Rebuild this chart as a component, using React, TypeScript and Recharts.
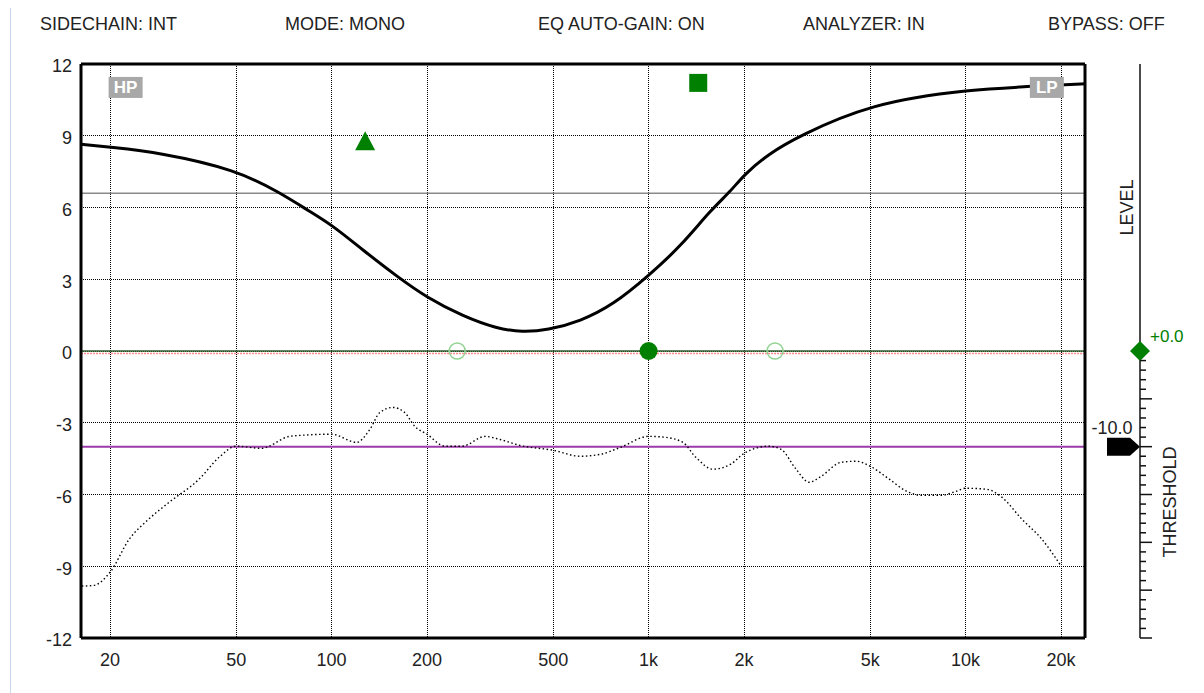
import {
  ComposedChart,
  Line,
  Scatter,
  XAxis,
  YAxis,
  CartesianGrid,
  ReferenceLine,
  ReferenceDot,
} from 'recharts';

const FONT = '"Liberation Sans", Arial, sans-serif';
const GREEN = '#008000';

// header status flags
const statusItems = ['SIDECHAIN: INT', 'MODE: MONO', 'EQ AUTO-GAIN: ON', 'ANALYZER: IN', 'BYPASS: OFF'];
const statusLeft = [40, 285, 538, 803, 1048];

// axes
const xTicks = [20, 50, 100, 200, 500, 1000, 2000, 5000, 10000, 20000];
const xTickLabels = ['20', '50', '100', '200', '500', '1k', '2k', '5k', '10k', '20k'];
const yTicks = [-12, -9, -6, -3, 0, 3, 6, 9, 12];
const thresholdTicks = [15, ...Array.from({ length: 31 }, (_, i) => -i)];

// EQ response curve (Hz, dB)
const eqFreq = [16.2, 20, 28.6, 50, 68.5, 85.2, 100, 125, 161, 200, 259, 333, 400, 479, 609, 775, 1000, 1263, 1571, 1817, 2000, 2400, 2962, 5000, 10000, 20000, 23800];
const eqGain = [8.65, 8.52, 8.3, 7.58, 6.63, 5.84, 5.28, 4.24, 3.11, 2.23, 1.46, 0.93, 0.79, 0.87, 1.24, 1.94, 3.15, 4.38, 5.9, 6.68, 7.38, 8.25, 8.97, 10.33, 10.94, 11.12, 11.17];

// analyzer spectrum (Hz, dB)
const anFreq = [16.3, 17.8, 20, 23, 26.5, 30.7, 38.2, 44.2, 50, 60, 73.6, 79.2, 100, 120, 132, 142, 156, 170, 183, 200, 228, 258, 305, 340, 393, 500, 609, 705, 815, 1000, 1132, 1282, 1409, 1595, 1817, 2000, 2398, 2617, 2918, 3208, 3500, 4052, 4518, 5000, 5745, 6505, 7256, 8396, 9356, 10000, 11650, 13000, 15040, 17400, 20000];
const anLevel = [-9.83, -9.8, -9.25, -7.87, -7.03, -6.33, -5.36, -4.44, -3.98, -4.07, -3.57, -3.53, -3.48, -3.82, -3.28, -2.57, -2.36, -2.57, -3.15, -3.48, -3.98, -3.98, -3.57, -3.7, -3.95, -4.15, -4.4, -4.32, -4.03, -3.57, -3.61, -3.82, -4.44, -4.94, -4.73, -4.28, -3.98, -4.11, -4.94, -5.49, -5.24, -4.65, -4.61, -4.82, -5.36, -5.86, -6.03, -6.03, -5.86, -5.74, -5.78, -6.11, -7.03, -7.87, -8.99];

// band handles
const triHandle = [{ f: 127.6, g: 8.79 }];
const squareHandle = [{ f: 1434, g: 11.21 }];
const dotHandle = [{ f: 1000, g: 0 }];
const ringHandles = [{ f: 249, g: 0 }, { f: 2505, g: 0 }];

const levelRef = 6.6;
const thresholdLine = -4;
const thresholdValue = -10;
const levelValue = 0;
const hpBadge = { f: 22.4, g: 11.02 };
const lpBadge = { f: 18040, g: 11.02 };

const eqData = eqFreq.map((f, i) => ({ f, g: eqGain[i] }));
const anData = anFreq.map((f, i) => ({ f, g: anLevel[i] }));

function Badge({ cx, cy, label }: any) {
  return (
    <g>
      <rect x={cx - 17} y={cy - 10.5} width={34} height={21} fill="#a8a8a8" />
      <text x={cx} y={cy + 6} textAnchor="middle" fill="#fff" fontSize={17} fontWeight="bold" fontFamily={FONT}>
        {label}
      </text>
    </g>
  );
}

function ThresholdTick({ x, y, payload }: any) {
  const v = payload.value;
  if (v === 15) {
    return (
      <text x={x - 13} y={y} transform={`rotate(-90 ${x - 13} ${y})`} textAnchor="middle" dominantBaseline="central" fontSize={18} fill="#222" fontFamily={FONT}>
        LEVEL
      </text>
    );
  }
  const len = v % 5 === 0 ? 12 : 6;
  return (
    <g>
      {v !== 0 && <line x1={x} y1={y} x2={x + len} y2={y} stroke="#111" strokeWidth={1.5} />}
      {v === levelValue && (
        <g>
          <polygon points={`${x},${y - 10} ${x + 10},${y} ${x},${y + 10} ${x - 10},${y}`} fill={GREEN} />
          <text x={x + 10} y={y - 9} fontSize={17} fill={GREEN} fontFamily={FONT}>+0.0</text>
        </g>
      )}
      {v === thresholdValue && (
        <g>
          <polygon points={`${x - 33},${y - 9} ${x - 10},${y - 9} ${x},${y} ${x - 10},${y + 9} ${x - 33},${y + 9}`} fill="#000" />
          <text x={x - 28} y={y - 13} textAnchor="middle" fontSize={18} fill="#222" fontFamily={FONT}>-10.0</text>
        </g>
      )}
      {v === -16 && (
        <text x={x + 30} y={y - 2} transform={`rotate(-90 ${x + 30} ${y - 2})`} textAnchor="middle" dominantBaseline="central" fontSize={18} fill="#222" fontFamily={FONT}>
          THRESHOLD
        </text>
      )}
    </g>
  );
}

export default function App() {
  return (
    <div style={{ position: 'absolute', left: 0, top: 0, width: 1204, height: 693, background: '#fff', fontFamily: FONT }}>
      <div style={{ position: 'absolute', left: 10, top: 8, width: 1, height: 685, background: '#c9d8ee' }} />
      {statusItems.map((s, i) => (
        <div key={s} style={{ position: 'absolute', left: statusLeft[i], top: 14, fontSize: 18, lineHeight: '20px', color: '#222', whiteSpace: 'nowrap' }}>
          {s}
        </div>
      ))}
      <ComposedChart width={1204} height={693} margin={{ top: 64, right: 14, bottom: 25, left: 31 }}>
        <CartesianGrid stroke="#000" strokeDasharray="1 1" shapeRendering="crispEdges" />
        <XAxis
          dataKey="f"
          type="number"
          scale="log"
          domain={[16.2, 23800]}
          allowDataOverflow
          ticks={xTicks}
          interval={0}
          tickFormatter={(v: number) => xTickLabels[xTicks.indexOf(v)] ?? String(v)}
          tickLine={false}
          tickSize={0}
          tickMargin={15}
          height={30}
          axisLine={{ stroke: '#000', strokeWidth: 3 }}
          tick={{ fontSize: 18, fill: '#222', fontFamily: FONT }}
        />
        <YAxis
          dataKey="g"
          type="number"
          domain={[-12, 12]}
          allowDataOverflow
          ticks={yTicks}
          interval={0}
          width={50}
          tickLine={false}
          tickSize={0}
          tickMargin={9}
          axisLine={{ stroke: '#000', strokeWidth: 3 }}
          tick={{ fontSize: 18, fill: '#222', fontFamily: FONT, dy: 2 }}
        />
        <YAxis yAxisId="spacer" orientation="right" width={55} domain={[0, 1]} tick={false} tickLine={false} axisLine={{ stroke: '#000', strokeWidth: 3 }} />
        <YAxis
          yAxisId="thr"
          orientation="right"
          type="number"
          width={50}
          domain={[-30, 30]}
          allowDataOverflow
          ticks={thresholdTicks}
          interval={0}
          tickLine={false}
          tickSize={0}
          tickMargin={0}
          axisLine={{ stroke: '#111', strokeWidth: 1.5 }}
          tick={(p: any) => <ThresholdTick {...p} />}
        />
        <ReferenceLine y={12} stroke="#000" strokeWidth={3} />
        <ReferenceLine y={levelRef} stroke="#8a8a8a" strokeWidth={1.5} />
        <ReferenceLine y={-0.1} stroke="#ff8c8c" strokeWidth={1.5} strokeDasharray="2 1" />
        <ReferenceLine y={0} stroke="#2f5f2f" strokeWidth={1.5} />
        <ReferenceLine y={thresholdLine} stroke="#9b3aa8" strokeWidth={2} />
        <ReferenceDot x={hpBadge.f} y={hpBadge.g} r={1} shape={(p: any) => <Badge {...p} label="HP" />} />
        <ReferenceDot x={lpBadge.f} y={lpBadge.g} r={1} shape={(p: any) => <Badge {...p} label="LP" />} />
        <Line data={anData} dataKey="g" type="monotone" stroke="#000" strokeWidth={1.4} strokeDasharray="1.5 2.5" dot={false} activeDot={false} isAnimationActive={false} />
        <Line data={eqData} dataKey="g" type="basis" stroke="#000" strokeWidth={3} dot={false} activeDot={false} isAnimationActive={false} />
        <Scatter
          data={triHandle}
          isAnimationActive={false}
          shape={(p: any) => <polygon points={`${p.cx},${p.cy - 9.5} ${p.cx + 10},${p.cy + 9.5} ${p.cx - 10},${p.cy + 9.5}`} fill={GREEN} />}
        />
        <Scatter
          data={squareHandle}
          isAnimationActive={false}
          shape={(p: any) => <rect x={p.cx - 9} y={p.cy - 9} width={18} height={18} fill={GREEN} />}
        />
        <Scatter
          data={ringHandles}
          isAnimationActive={false}
          shape={(p: any) => <circle cx={p.cx} cy={p.cy} r={8} fill="none" stroke="#93d393" strokeWidth={1.5} />}
        />
        <Scatter
          data={dotHandle}
          isAnimationActive={false}
          shape={(p: any) => <circle cx={p.cx} cy={p.cy} r={9} fill={GREEN} />}
        />
      </ComposedChart>
    </div>
  );
}
